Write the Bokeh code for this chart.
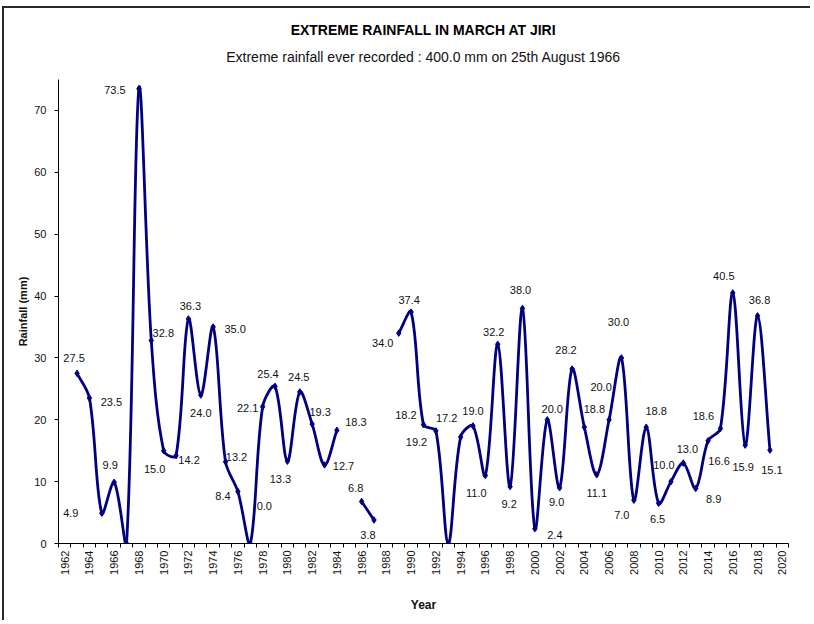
import math
import numpy as np
from bokeh.plotting import figure
from bokeh.models import FixedTicker, Title, ColumnDataSource, Range1d
from bokeh.core.properties import value
from bokeh.embed import file_html
from bokeh.resources import INLINE

# ---------------- data ----------------
years = list(range(1963, 2020))
rainfall = [27.5, 23.5, 4.9, 9.9, 0.0, 73.5, 32.8, 15.0, 14.2, 36.3,
            24.0, 35.0, 13.2, 8.4, 0.0, 22.1, 25.4, 13.3, 24.5, 19.3,
            12.7, 18.3, None, 6.8, 3.8, None, 34.0, 37.4, 19.2, 18.2,
            0.0, 17.2, 19.0, 11.0, 32.2, 9.2, 38.0, 2.4, 20.0, 9.0,
            28.2, 18.8, 11.1, 20.0, 30.0, 7.0, 18.8, 6.5, 10.0, 13.0,
            8.9, 16.6, 18.6, 40.5, 15.9, 36.8, 15.1]
unlabelled_years = [1967, 1993]
y_ticks = [0, 10, 20, 30, 40, 50, 60, 70]
x_tick_years = list(range(1962, 2021, 2))

title_text = "EXTREME RAINFALL IN MARCH AT JIRI"
subtitle_text = "Extreme rainfall ever recorded : 400.0 mm on 25th August 1966"

# label placement (screen px offsets: right, down) -- styling only
label_offsets = {
    1963: (-3, -15), 1964: (22, 4), 1965: (-31, 0), 1966: (-4, -17),
    1968: (-24, 1), 1969: (12, -8), 1970: (-9, 18), 1971: (13, 4),
    1972: (2, -13), 1973: (0, 18), 1974: (22, 2), 1975: (11, -5),
    1976: (-15, 4), 1977: (14, -38), 1978: (-15, 1), 1979: (-7, -12),
    1980: (-7, 18), 1981: (-1, -15), 1982: (8, -12), 1983: (19, 1),
    1984: (19, -8), 1986: (-6, -13), 1987: (-6, 15), 1989: (-16, 10),
    1990: (-2, -12), 1991: (-7, 17), 1992: (-30, -16), 1994: (-14, -19),
    1995: (0, -15), 1996: (-9, 18), 1997: (-4, -12), 1998: (-1, 17),
    1999: (-2, -18), 2000: (20, 6), 2001: (5, -11), 2002: (-3, 14),
    2003: (-6, -19), 2004: (10, -18), 2005: (0, 18), 2006: (-8, -33),
    2007: (-3, -36), 2008: (-12, 15), 2009: (10, -16), 2010: (-1, 16),
    2011: (-7, -17), 2012: (4, -14), 2013: (18, 11), 2014: (11, 20),
    2015: (-17, -12), 2016: (-9, -17), 2017: (-2, 22), 2018: (2, -16),
    2019: (2, 20),
}

NAVY = "#000080"
FONT = "Liberation Sans"

W, H = 808, 614
ML, MR, MT, MB = 54, 24, 71, 79
X0, X1, Y0, Y1 = 1961.5, 2020.5, 0, 75

# ---------------- figure ----------------
p = figure(width=W, height=H, output_backend="svg", toolbar_location=None,
           x_range=Range1d(X0, X1), y_range=Range1d(Y0, Y1),
           min_border_left=ML, min_border_right=MR, min_border_top=MT,
           min_border_bottom=MB)
p.border_fill_color = "white"
p.outline_line_color = None
p.xgrid.visible = False
p.ygrid.visible = False
p.styles = {"margin-left": "4px", "margin-top": "8px",
            "box-shadow": "-2px -2px 0 0 #2a2a2a"}

sub = Title(text=subtitle_text, align="center", text_font=FONT,
            text_font_size="14px", text_font_style="normal", text_color="#111111",
            standoff=30)
p.add_layout(sub, "above")
main = Title(text=title_text, align="center", text_font=FONT,
             text_font_size="14px", text_font_style="bold", text_color="#000000",
             standoff=-12)
p.add_layout(main, "above")

# axes
xa = p.xaxis[0]
xa.ticker = FixedTicker(ticks=x_tick_years,
                        minor_ticks=[y + 0.5 for y in range(1961, 2021)])
xa.major_label_orientation = math.pi / 2
xa.major_tick_out = 4
xa.major_tick_in = 0
xa.minor_tick_out = 4
xa.minor_tick_in = 0
xa.minor_tick_line_color = "#000000"
xa.major_label_standoff = 3
xa.axis_label = "Year"
xa.axis_label_standoff = 20

ya = p.yaxis[0]
ya.ticker = FixedTicker(ticks=y_ticks)
ya.major_tick_out = 4
ya.major_tick_in = 0
ya.minor_tick_line_color = None
ya.major_label_standoff = 8
ya.axis_label = "Rainfall (mm)"
ya.axis_label_standoff = 2

for ax in (xa, ya):
    ax.axis_line_color = "#000000"
    ax.major_label_text_font = FONT
    ax.major_label_text_font_size = "11px"
    ax.major_label_text_color = "#111111"
    ax.axis_label_text_font = FONT
    ax.axis_label_text_font_style = "bold"
    ax.axis_label_text_color = "#111111"
xa.major_tick_line_color = None
ya.major_tick_line_color = "#000000"
xa.axis_label_text_font_size = "12px"
ya.axis_label_text_font_size = "11px"

# ---------------- smoothed line (Excel-like Bezier smoothing) -------------
xs_arr = np.array(years, dtype=float)
ys_arr = np.array([np.nan if v is None else v for v in rainfall], dtype=float)

# pixel scales so the smoothing is done in an isotropic (screen) space
sx = (W - ML - MR) / (X1 - X0)
sy = (H - MT - MB) / (Y1 - Y0)

runs = []
cur = []
for xv, yv in zip(xs_arr, ys_arr):
    if np.isnan(yv):
        if cur:
            runs.append(cur)
        cur = []
    else:
        cur.append((xv, yv))
if cur:
    runs.append(cur)

bz = dict(x0=[], y0=[], x1=[], y1=[], cx0=[], cy0=[], cx1=[], cy1=[])
scale = np.array([sx, sy])
for run in runs:
    pts = np.array(run)
    spts = pts * scale
    n = len(pts)
    for i in range(n - 1):
        a = spts[i - 1] if i > 0 else spts[i]
        b = spts[i]
        c = spts[i + 1]
        d = spts[i + 2] if i + 2 < n else spts[i + 1]
        dab = np.linalg.norm(b - a)
        dbc = np.linalg.norm(c - b)
        dcd = np.linalg.norm(d - c)
        f1 = dbc / (dab + dbc) / 3.0 if (dab + dbc) > 0 else 0.0
        f2 = dbc / (dbc + dcd) / 3.0 if (dbc + dcd) > 0 else 0.0
        c1 = (b + (c - a) * f1) / scale
        c2 = (c - (d - b) * f2) / scale
        bz["x0"].append(pts[i][0]); bz["y0"].append(pts[i][1])
        bz["x1"].append(pts[i + 1][0]); bz["y1"].append(pts[i + 1][1])
        bz["cx0"].append(c1[0]); bz["cy0"].append(c1[1])
        bz["cx1"].append(c2[0]); bz["cy1"].append(c2[1])

p.bezier(x0="x0", y0="y0", x1="x1", y1="y1", cx0="cx0", cy0="cy0",
         cx1="cx1", cy1="cy1", source=ColumnDataSource(bz),
         line_color=NAVY, line_width=2.8, line_cap="round", line_join="round")

valid = ~np.isnan(ys_arr)
p.scatter(xs_arr[valid], ys_arr[valid], marker="diamond", size=6.5,
          fill_color=NAVY, line_color=NAVY)

# ---------------- data labels ----------------
lx, ly, lt, dx, dy = [], [], [], [], []
for yr, v in zip(years, rainfall):
    if v is None or yr in unlabelled_years:
        continue
    ox, oy = label_offsets.get(yr, (0, -14))
    lx.append(yr); ly.append(v); lt.append(f"{v:.1f}")
    dx.append(ox); dy.append(oy)
p.text(x="x", y="y", text="t", x_offset="dx", y_offset="dy",
       source=ColumnDataSource(dict(x=lx, y=ly, t=lt, dx=dx, dy=dy)),
       text_font=value(FONT), text_font_size="11px", text_color="#111111",
       text_align="center", text_baseline="middle")

open("out.html", "w").write(file_html(p, INLINE))
